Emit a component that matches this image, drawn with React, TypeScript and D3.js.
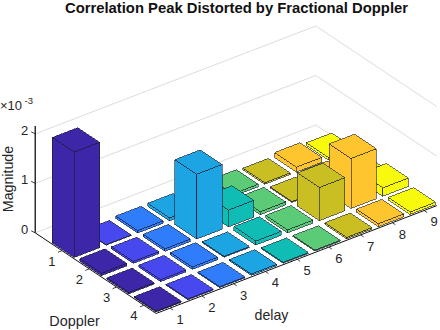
import * as d3 from 'd3'

const dopplers = [1, 2, 3, 4]
const delays = [1, 2, 3, 4, 5, 6, 7, 8, 9]
const zTicks = [0, 1, 2]

// magnitude x 1e-3, one list per doppler row, delay 1..9
const doppler1 = [2.13, 0.01, 0.05, 0.06, 0.03, 0.05, 0.03, 0.1, 0.05]
const doppler2 = [0.05, 0.04, 0.05, 1.31, 0.34, 0.06, 0.02, 0.1, 0.05]
const doppler3 = [0.03, 0.04, 0.05, 0.02, 0.08, 0.06, 0.67, 1.01, 0.17]
const doppler4 = [0.02, 0.02, 0.02, 0.03, 0.02, 0.02, 0.03, 0.06, 0.05]
const magnitude = [doppler1, doppler2, doppler3, doppler4]

const delayColors = ['#3e26a8', '#4748ee', '#2f7dfb', '#1da5e3', '#0fbdb4', '#5ccb77', '#c9be22', '#ffc52e', '#f8fa0d']

const width = 440
const height = 330

// oblique projection of the axes box
const dopplerX = d3.scaleLinear().domain([0, 1]).range([0, 27.3])
const dopplerY = d3.scaleLinear().domain([0, 1]).range([0, 18.2])
const delayX = d3.scaleLinear().domain([0, 1]).range([0, 31.75])
const delayY = d3.scaleLinear().domain([0, 1]).range([0, -12.2])
const zY = d3.scaleLinear().domain([0, 2]).range([0, -99])

const dMin = 0.02
const dMax = 4.45
const tMin = 0.56
const tMax = 9.4
const zMax = 2.16
const barHalf = 0.4

function project(d: number, t: number, z: number): [number, number] {
    return [16.9 + dopplerX(d) + delayX(t), 239.3 + dopplerY(d) + delayY(t) + zY(z)]
}

const poly = d3.line()
const open = (pts: [number, number][]) => poly(pts) as string
const closed = (pts: [number, number][]) => open(pts) + 'Z'

function Bar({ d, t, h, color }: { d: number; t: number; h: number; color: string }) {
    const d0 = d - barHalf, d1 = d + barHalf, t0 = t - barHalf, t1 = t + barHalf
    const faces = [
        [project(d0, t0, 0), project(d1, t0, 0), project(d1, t0, h), project(d0, t0, h)],
        [project(d1, t0, 0), project(d1, t1, 0), project(d1, t1, h), project(d1, t0, h)],
        [project(d0, t0, h), project(d1, t0, h), project(d1, t1, h), project(d0, t1, h)],
    ]
    return (
        <g>
            {faces.map((f, i) => (
                <path key={i} d={closed(f)} fill={color} stroke="#1b1b2b" strokeWidth={0.6} shapeRendering="crispEdges" />
            ))}
        </g>
    )
}

export default function App() {
    const font = 'Liberation Sans, Arial, sans-serif'
    const textColor = '#262626'

    const axisStart = project(dMin, tMin, 0)
    const axisFront = project(dMax, tMin, 0)
    const axisRight = project(dMax, tMax, 0)

    return (
        <svg width={width} height={height} viewBox={`0 0 ${width} ${height}`}
            style={{ position: 'absolute', left: 0, top: 0, background: '#fff' }} fontFamily={font}>
            <text x={65} y={12.8} fontSize={14} textLength={343} lengthAdjust="spacingAndGlyphs" fontWeight="bold" fill="#111">
                Correlation Peak Distorted by Fractional Doppler
            </text>

            {zTicks.map(z => (
                <path key={z} fill="none" stroke="#dcdcdc" strokeWidth={1}
                    d={open([project(dMin, tMin, z), project(dMin, tMax, z), project(dMax, tMax, z)])} />
            ))}

            {dopplers.map((d, i) => delays.map((t, j) => ({ d, t, h: magnitude[i][j], color: delayColors[j] }))
                .reverse()
                .map(b => <Bar key={`${b.d}-${b.t}`} {...b} />))}

            <path d={open([axisStart, axisFront, axisRight])} fill="none" stroke="#111" strokeWidth={1} />
            <path d={open([axisStart, project(dMin, tMin, zMax)])} fill="none" stroke="#111" strokeWidth={1.3} />

            {zTicks.map(z => {
                const [x, y] = project(dMin, tMin, z)
                return (
                    <g key={z}>
                        <line x1={x} y1={y} x2={x - 4} y2={y - 2} stroke="#111" strokeWidth={0.8} />
                        <text x={x - 7} y={y + 1} textAnchor="end" fontSize={13} fill={textColor}>{z}</text>
                    </g>
                )
            })}
            {dopplers.map(d => {
                const [x, y] = project(d, tMin, 0)
                return (
                    <g key={d}>
                        <line x1={x} y1={y} x2={x - 4} y2={y + 1.6} stroke="#111" strokeWidth={0.8} />
                        <text x={x - 10} y={y + 15} textAnchor="middle" fontSize={13} fill={textColor}>{d}</text>
                    </g>
                )
            })}
            {delays.map(t => {
                const [x, y] = project(dMax, t, 0)
                return (
                    <g key={t}>
                        <line x1={x} y1={y} x2={x + 3} y2={y + 2} stroke="#111" strokeWidth={0.8} />
                        <text x={x + 10} y={y + 16} textAnchor="middle" fontSize={13} fill={textColor}>{t}</text>
                    </g>
                )
            })}

            <text x={0} y={110} fontSize={13} fill={textColor}>×10</text>
            <text x={24.5} y={104} fontSize={9.5} fill={textColor}>-3</text>
            <text transform="translate(13,179) rotate(-90)" textAnchor="middle" fontSize={14.2} fill={textColor}>Magnitude</text>
            <text x={74.5} y={326} textAnchor="middle" fontSize={14.4} fill={textColor}>Doppler</text>
            <text x={271.5} y={320} textAnchor="middle" fontSize={14.2} fill={textColor}>delay</text>
        </svg>
    )
}
